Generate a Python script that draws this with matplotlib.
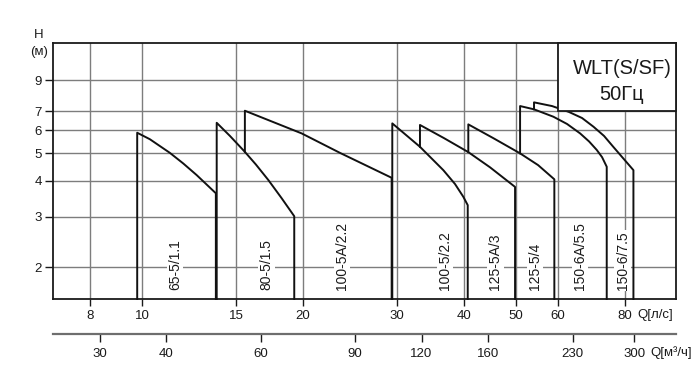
import matplotlib
matplotlib.use("Agg")
import matplotlib.pyplot as plt
from matplotlib.patches import Rectangle
from matplotlib.ticker import NullLocator, FixedLocator, FixedFormatter

plt.rcParams['font.family'] = ['Liberation Sans', 'DejaVu Sans']

# ---------------- data ----------------
q_ticks = [8, 10, 15, 20, 30, 40, 50, 60, 80]          # l/s
m3h_ticks = [30, 40, 60, 90, 120, 160, 230, 300]        # m3/h
h_ticks = [2, 3, 4, 5, 6, 7, 9]

names = ["65-5/1.1", "80-5/1.5", "100-5A/2.2", "100-5/2.2",
         "125-5A/3", "125-5/4", "150-6A/5.5", "150-6/7.5"]

q_6551 = [9.80, 10.35, 11.28, 11.95, 12.66, 13.75]
h_6551 = [5.89, 5.59, 5.01, 4.60, 4.19, 3.62]

q_8051 = [13.80, 14.61, 15.58, 16.34, 17.23, 18.25, 19.27]
h_8051 = [6.38, 5.74, 5.05, 4.56, 4.03, 3.48, 3.01]

q_1005A = [15.58, 19.89, 23.46, 29.31]
h_1005A = [7.03, 5.86, 5.01, 4.10]

q_1005 = [29.39, 33.11, 36.61, 38.50, 39.90, 40.67]
h_1005 = [6.35, 5.26, 4.36, 3.90, 3.52, 3.29]

q_1255A = [33.11, 36.72, 40.77, 44.77, 49.86]
h_1255A = [6.27, 5.64, 5.04, 4.46, 3.81]

q_1255 = [40.77, 45.40, 50.95, 55.06, 59.05]
h_1255 = [6.30, 5.64, 4.99, 4.54, 4.05]

q_1506A = [50.95, 54.10, 58.80, 62.37, 65.97, 68.58, 70.87, 72.52, 73.99]
h_1506A = [7.30, 7.11, 6.70, 6.32, 5.86, 5.49, 5.13, 4.84, 4.48]

q_1506 = [54.10, 58.46, 62.90, 66.53, 69.90, 73.14, 76.10, 79.39, 83.00]
h_1506 = [7.52, 7.30, 6.96, 6.63, 6.18, 5.74, 5.26, 4.80, 4.36]

# H where the left vertical of each curve starts (None = from the bottom)
left_base = [None, None, 5.05, None, 5.26, 5.04, 4.99, 7.11]

curves_q = [q_6551, q_8051, q_1005A, q_1005, q_1255A, q_1255, q_1506A, q_1506]
curves_h = [h_6551, h_8051, h_1005A, h_1005, h_1255A, h_1255, h_1506A, h_1506]

# ---------------- figure ----------------
W, H = 698, 373
fig = plt.figure(figsize=(W / 100, H / 100), dpi=100)
ax = fig.add_axes([53 / W, 1 - 299 / H, 623 / W, 256 / H])
ax.set_xscale('log')
ax.set_yscale('log')
XMIN, XMAX = 6.82, 99.7
YMIN, YMAX = 1.547, 12.12
ax.set_xlim(XMIN, XMAX)
ax.set_ylim(YMIN, YMAX)

ax.xaxis.set_major_locator(FixedLocator(q_ticks))
ax.xaxis.set_major_formatter(FixedFormatter([str(v) for v in q_ticks]))
ax.xaxis.set_minor_locator(NullLocator())
ax.yaxis.set_major_locator(FixedLocator(h_ticks))
ax.yaxis.set_major_formatter(FixedFormatter([str(v) for v in h_ticks]))
ax.yaxis.set_minor_locator(NullLocator())

ax.grid(True, which='major', color='#7d7d7d', lw=1.0, zorder=0)
ax.set_axisbelow(True)
for s in ax.spines.values():
    s.set_color('#1a1a1a')
    s.set_linewidth(1.3)

ax.tick_params(axis='x', direction='out', length=5, width=1.0, pad=3,
               labelsize=9.5, colors='#1a1a1a')
ax.tick_params(axis='y', direction='out', length=6, width=1.0, pad=2,
               labelsize=9.5, colors='#1a1a1a')

# curves
for qs, hs, base in zip(curves_q, curves_h, left_base):
    b = YMIN if base is None else base
    xs = [qs[0]] + list(qs) + [qs[-1]]
    ys = [b] + list(hs) + [YMIN]
    ax.plot(xs, ys, color='#111111', lw=1.4, zorder=3, clip_on=False,
            solid_joinstyle='round')

# labels
label_q = [11.53, 17.11, 23.67, 36.89, 45.76, 54.35, 65.97, 79.3]
for name, lq in zip(names, label_q):
    ax.text(lq, 1.662, name, rotation=90, ha='center', va='bottom',
            fontsize=10, color='#1a1a1a', zorder=4,
            bbox=dict(facecolor='white', edgecolor='none', pad=1.0))

# box
box = Rectangle((60, 7), XMAX - 60, YMAX - 7, transform=ax.transData,
                facecolor='white', edgecolor='#1a1a1a', lw=1.3, zorder=5,
                clip_on=False)
ax.add_patch(box)
fig.text(622 / W, 1 - 69 / H, "WLT(S/SF)", ha='center', va='center',
         fontsize=14.5, color='#1a1a1a', zorder=6)
fig.text(622 / W, 1 - 95 / H, "50Гц", ha='center', va='center',
         fontsize=14.5, color='#1a1a1a', zorder=6)

# axis titles
fig.text(39 / W, 1 - 35 / H, "H", ha='center', va='center', fontsize=9.5,
         color='#1a1a1a')
fig.text(39 / W, 1 - 51.5 / H, "(м)", ha='center', va='center', fontsize=9.5,
         color='#1a1a1a')
fig.text(637 / W, 1 - 315 / H, "Q[л/с]", ha='left', va='center', fontsize=9.5,
         color='#1a1a1a')
fig.text(650 / W, 1 - 352.5 / H, "Q[м³/ч]", ha='left', va='center', fontsize=9.5,
         color='#1a1a1a')

# secondary axis in m3/h
sec = ax.secondary_xaxis((299 - 334.3) / 256,
                         functions=(lambda q: q * 3.6, lambda m: m / 3.6))
sec.xaxis.set_major_locator(FixedLocator(m3h_ticks))
sec.xaxis.set_major_formatter(FixedFormatter([str(v) for v in m3h_ticks]))
sec.xaxis.set_minor_locator(NullLocator())
sec.spines['bottom'].set_color('#6e6e6e')
sec.spines['bottom'].set_linewidth(1.6)
sec.tick_params(axis='x', direction='out', length=6, width=1.0, pad=4,
                labelsize=9.5, colors='#1a1a1a')

fig.savefig("out.png", dpi=100)
